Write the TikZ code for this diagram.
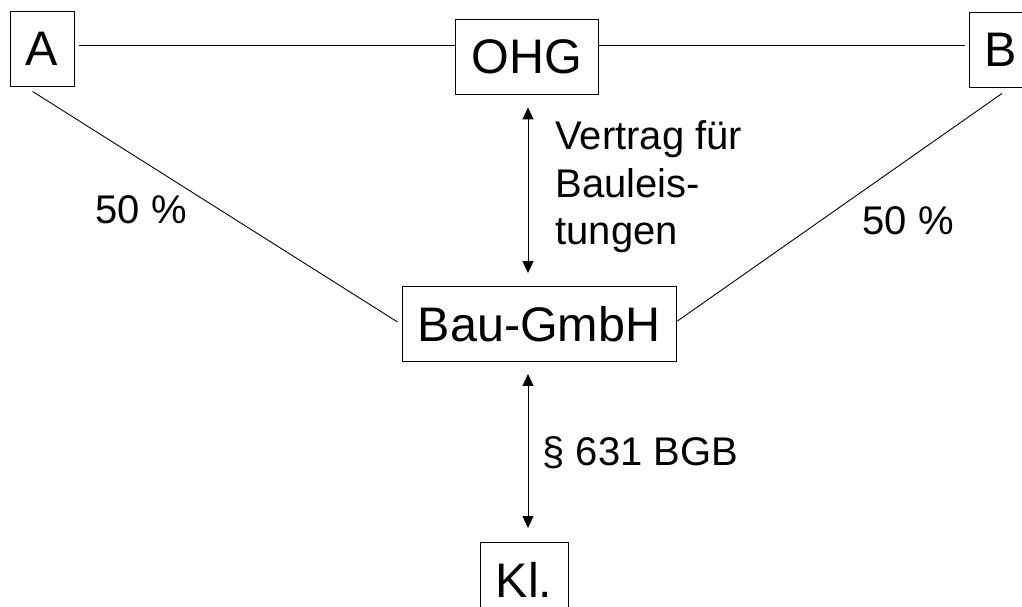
\documentclass[tikz,border=0pt]{standalone}
\usepackage{fontspec}
\setmainfont{Liberation Sans}
\usetikzlibrary{arrows.meta,positioning}

\begin{document}
\begin{tikzpicture}[x=1pt,y=1pt,>={Triangle[length=12pt,width=11pt]},line width=0.9pt]
                \tikzstyle{party}=[draw=black,rectangle,inner xsep=14pt,minimum height=75pt,font=\fontsize{48.5}{58}\selectfont]
                \tikzstyle{note}=[inner sep=0pt,font=\fontsize{40}{47.5}\selectfont]
                \useasboundingbox (0,0) rectangle (1022,-607);

                \node[party,minimum width=64pt] at (42,-48.5)      (A)     {A};
                \node[party,minimum width=143pt] at (526.5,-56.5)  (OHG)   {OHG};
                \node[party,minimum width=64pt] at (1001,-49.5)    (B)     {B};
                \node[party,minimum width=274pt] at (539,-324) (Bau) {Bau-GmbH};
                \node[party,minimum width=88pt] at (524,-580)  (Kl)  {Kl.};

                \node[note,anchor=base west] at (95,-223)   (p_A)  {50 \%};
                \node[note,anchor=base west] at (862,-234)  (p_B)  {50 \%};
                \node[note,anchor=north west,align=left] at (555,-120.5) (vertrag) {Vertrag f\"ur\\Bauleis-\\tungen};
                \node[note,anchor=base west] at (542,-465)  (bgb)  {\S{} 631 BGB};

                \draw ([shift={(5pt,3.5pt)}]A.east) -- ([yshift=11.5pt]OHG.west);
                \draw ([yshift=11.5pt]OHG.east) -- ([shift={(-4pt,4.5pt)}]B.west);
                \draw ([shift={(23pt,-5pt)}]A.south west) -- ([shift={(-4pt,2pt)}]Bau.west);
                \draw ([shift={(1pt,-6pt)}]B.south) -- ([shift={(1pt,3pt)}]Bau.east);
                \draw[<->] ([shift={(1.5pt,-13pt)}]OHG.south) -- ([shift={(1.5pt,13pt)}]OHG.south |- Bau.north);
                \draw[<->] ([shift={(-11pt,-12pt)}]Bau.south) -- ([shift={(4pt,14pt)}]Kl.north);
\end{tikzpicture}
\end{document}
